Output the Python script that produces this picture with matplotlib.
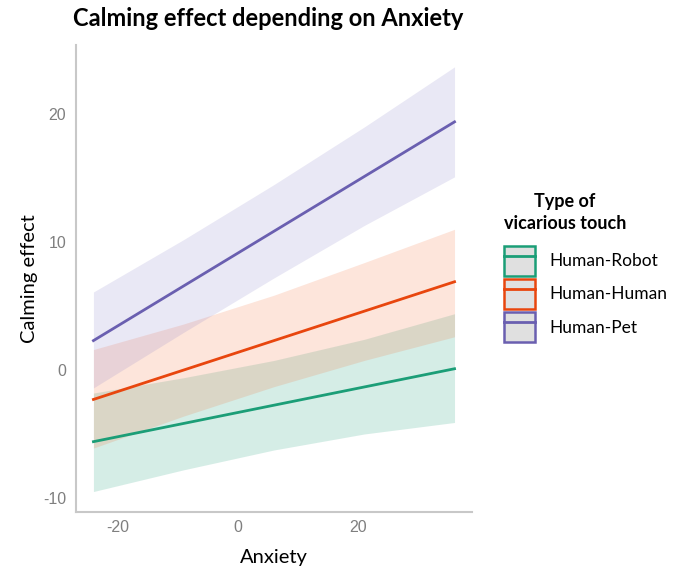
import matplotlib.pyplot as plt
from matplotlib.patches import Patch
from matplotlib.lines import Line2D

plt.rcParams['axes.unicode_minus'] = False

# data
groups = ['Human-Robot', 'Human-Human', 'Human-Pet']
colors = ['#1b9e77', '#e8460e', '#6a5fb0']
fills = ['#1b9e77', '#f4703a', '#8a80c8']

line_x = [-24, 36]
robot_fit = [-5.6, 0.1]
human_fit = [-2.3, 6.9]
pet_fit = [2.3, 19.4]

band_x = [-24, -9, 6, 21, 36]
robot_lo = [-9.5, -7.8, -6.25, -5.0, -4.1]
robot_hi = [-1.8, -0.6, 0.75, 2.4, 4.4]
human_lo = [-6.1, -3.6, -1.3, 0.75, 2.6]
human_hi = [1.6, 3.6, 5.85, 8.4, 11.0]
pet_lo = [-1.4, 2.95, 7.2, 11.3, 15.1]
pet_hi = [6.1, 10.2, 14.5, 19.0, 23.7]

fits = [robot_fit, human_fit, pet_fit]
lows = [robot_lo, human_lo, pet_lo]
highs = [robot_hi, human_hi, pet_hi]

fig = plt.figure(figsize=(6.76, 5.71), dpi=100)
ax = fig.add_axes([0.1124, 0.1033, 0.5858, 0.8177])

for i in range(3):
    ax.fill_between(band_x, lows[i], highs[i], color=fills[i], alpha=0.18, lw=0)
for i in range(3):
    ax.plot(line_x, fits[i], color=colors[i], lw=2)

ax.set_xlim(-26.9, 38.9)
ax.set_ylim(-11.1, 25.4)
ax.set_xticks([-20, 0, 20])
ax.set_yticks([-10, 0, 10, 20])
for s in ['top', 'right']:
    ax.spines[s].set_visible(False)
for s in ['left', 'bottom']:
    ax.spines[s].set_color('#c8c8c8')
    ax.spines[s].set_linewidth(1.5)
ax.tick_params(length=0, labelsize=11.5, labelcolor='#7f7f7f', labelfontfamily='Liberation Sans')
ax.tick_params(axis='x', pad=6)
ax.tick_params(axis='y', pad=7)

ax.set_xlabel('Anxiety', family='Lato', fontsize=14.5, labelpad=10)
ax.set_ylabel('Calming effect', family='Lato', fontsize=14.5, labelpad=4)
ax.set_title('Calming effect depending on Anxiety', family='Lato', weight='bold', fontsize=17,
             pad=14, x=0.485)

# legend: grey boxes with coloured outline and line
handles = []
for c in colors:
    handles.append((Patch(facecolor='#e0e0e0', edgecolor=c, lw=1.8),
                    Line2D([], [], color=c, lw=2)))
leg = ax.legend(handles, groups, loc='upper left', bbox_to_anchor=(0.722, 0.69),
                bbox_transform=fig.transFigure, frameon=False,
                title='Type of\nvicarious touch', handlelength=1.8, handleheight=2.25,
                labelspacing=0.2, handletextpad=0.85,
                prop={'family': 'Lato', 'size': 12.5},
                title_fontproperties={'family': 'Lato', 'weight': 'bold', 'size': 13})
leg.set_alignment('left')
leg.get_title().set_linespacing(1.4)
leg.get_title().set_multialignment('center')
leg._legend_box.sep = 10

plt.savefig('out.png', dpi=100)
